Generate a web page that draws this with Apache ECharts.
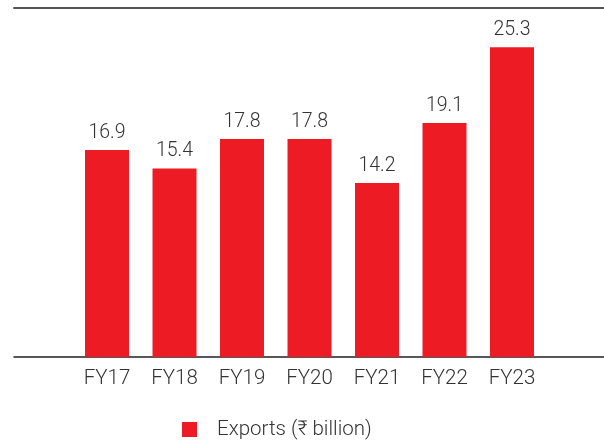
<!DOCTYPE html>
<html>
<head>
<meta charset="utf-8">
<script src="https://cdn.jsdelivr.net/npm/echarts@6/dist/echarts.min.js"></script>
<style>html,body{margin:0;padding:0;background:#fff}#c{width:604px;height:440px}</style>
</head>
<body>
<div id="c"></div>
<script>
var categories = ['FY17', 'FY18', 'FY19', 'FY20', 'FY21', 'FY22', 'FY23'];
var exportsValues = [16.9, 15.4, 17.8, 17.8, 14.2, 19.1, 25.3];
var seriesName = 'Exports (₹ billion)';

var chart = echarts.init(document.getElementById('c'), null, {renderer: 'canvas'});
var font = 'Roboto, "Noto Sans", sans-serif';
chart.setOption({
  animation: false,
  backgroundColor: '#fff',
  grid: [
    {left: 73.25, width: 472.5, top: 8, bottom: 83},
    {left: 14, right: 0, top: 8, bottom: 83}
  ],
  xAxis: [
    {
      type: 'category', data: categories, gridIndex: 0,
      axisLine: {show: false}, axisTick: {show: false},
      axisLabel: {color: '#333', fontSize: 20.5, fontWeight: 300, fontFamily: font, margin: 11}
    },
    {
      type: 'value', gridIndex: 1, position: 'bottom', min: 0, max: 1,
      axisLine: {show: true, onZero: false, lineStyle: {color: '#222', width: 1.5}},
      axisTick: {show: false}, axisLabel: {show: false}, splitLine: {show: false}
    },
    {
      type: 'value', gridIndex: 1, position: 'top', min: 0, max: 1,
      axisLine: {show: true, onZero: false, lineStyle: {color: '#555', width: 2}},
      axisTick: {show: false}, axisLabel: {show: false}, splitLine: {show: false}
    }
  ],
  yAxis: [
    {type: 'value', gridIndex: 0, min: 0, max: 28.5, show: false, splitLine: {show: false}},
    {type: 'value', gridIndex: 1, min: 0, max: 1, show: false, splitLine: {show: false}}
  ],
  legend: {
    bottom: 0, left: 182, padding: 0,
    itemWidth: 15, itemHeight: 15, icon: 'rect',
    textStyle: {color: '#333', fontSize: 20.5, fontWeight: 300, fontFamily: font, padding: [0, 0, 0, 15]},
    data: [seriesName]
  },
  series: [{
    name: seriesName, type: 'bar', xAxisIndex: 0, yAxisIndex: 0,
    data: exportsValues, barWidth: 44,
    itemStyle: {color: '#ED1C24'},
    label: {show: true, position: 'top', distance: 7, color: '#333', fontSize: 19.5, fontWeight: 300, fontFamily: font,
      formatter: function (p) { return p.value.toFixed(1); }}
  }]
});
</script>
</body>
</html>
